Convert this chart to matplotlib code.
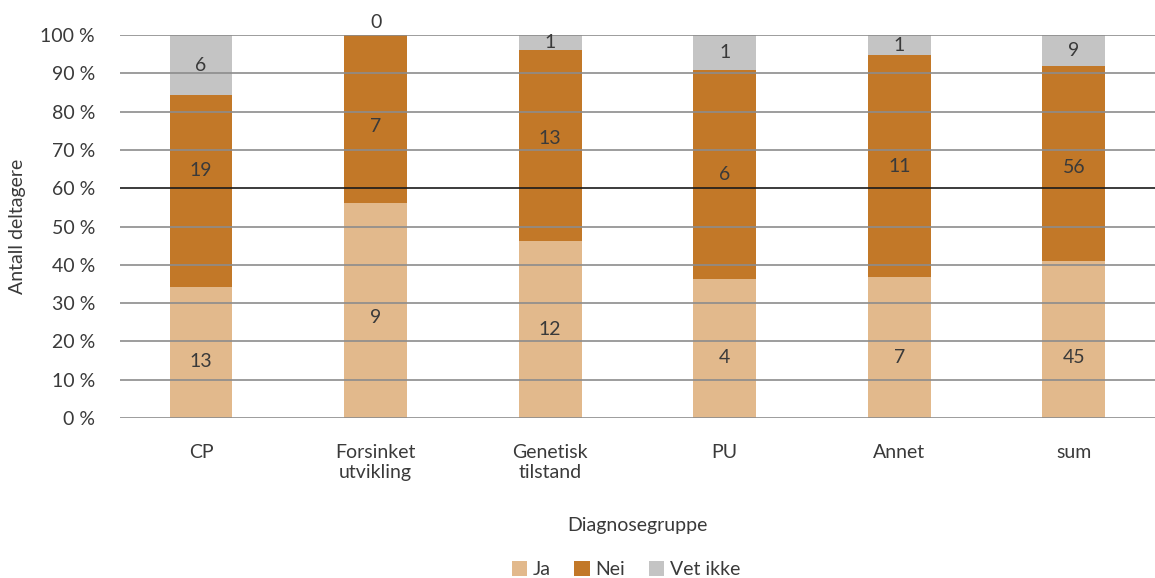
import matplotlib
matplotlib.use("Agg")
import matplotlib.pyplot as plt
import numpy as np

plt.rcParams['font.family'] = ['Lato', 'DejaVu Sans']

# Antall per diagnosegruppe
kategorier = ['CP', 'Forsinket\nutvikling', 'Genetisk\ntilstand', 'PU', 'Annet', 'sum']
ja = [13, 9, 12, 4, 7, 45]
nei = [19, 7, 13, 6, 11, 56]
vet_ikke = [6, 0, 1, 1, 1, 9]

serier = [('Ja', ja, '#E2B98C'), ('Nei', nei, '#C27828'), ('Vet ikke', vet_ikke, '#C4C4C4')]
tekstfarge = '#3a3a3a'
fs = 14

# noen etiketter er flyttet litt for hånd (serie, kategori) -> prosentpoeng
flytt = {(0, 0): -2.3, (1, 0): 5.5, (0, 1): -2, (1, 1): -2, (1, 2): 1.9,
         (0, 3): -2.5, (0, 4): -2.5, (0, 5): -4.6, (1, 5): -0.9}

totalt = np.array(ja) + np.array(nei) + np.array(vet_ikke)
x = np.arange(len(kategorier))

fig = plt.figure(figsize=(11.55, 5.78), dpi=100)
ax = fig.add_axes([120 / 1155, (578 - 418) / 578, 1 - 120 / 1155, (418 - 35) / 578])

bunn = np.zeros(len(kategorier))
for s, (navn, verdier, farge) in enumerate(serier):
    andel = np.array(verdier) / totalt * 100
    ax.bar(x, andel, 0.36, bottom=bunn, color=farge, label=navn, zorder=2)
    for i, v in enumerate(verdier):
        if v == 0:
            ax.text(x[i], bunn[i] + andel[i] + 1.0, str(v), ha='center', va='bottom',
                    fontsize=fs, color=tekstfarge)
        else:
            ax.text(x[i], bunn[i] + andel[i] / 2 + flytt.get((s, i), 0), str(v),
                    ha='center', va='center', fontsize=fs, color=tekstfarge, zorder=4)
    bunn += andel

# rutenett over søylene
for y in range(0, 101, 10):
    farge = '#1a1a1a' if y == 60 else '#8c8c8c'
    ax.axhline(y, color=farge, lw=1.2, zorder=3)

ax.set_ylim(0, 100)
ax.set_xlim(-0.464, 5.465)
ax.set_yticks(range(0, 101, 10))
ax.set_yticklabels([f'{v} %' for v in range(0, 101, 10)])
ax.set_xticks(x)
ax.set_xticklabels(kategorier)
ax.tick_params(axis='both', length=0, labelsize=fs, colors=tekstfarge)
ax.tick_params(axis='x', pad=19)
ax.tick_params(axis='y', pad=18)
for sp in ax.spines.values():
    sp.set_visible(False)

ax.set_xlabel('Diagnosegruppe', fontsize=fs, color=tekstfarge, labelpad=26)
ax.set_ylabel('Antall deltagere', fontsize=fs, color=tekstfarge, labelpad=10)

fig.legend(loc='lower center', bbox_to_anchor=(0.542, -0.03),
           ncol=3, frameon=False, handlelength=0.8, handleheight=0.8,
           handletextpad=0.3, columnspacing=1.2, labelcolor=tekstfarge,
           prop={'size': fs})

fig.savefig('out.png', dpi=100)
